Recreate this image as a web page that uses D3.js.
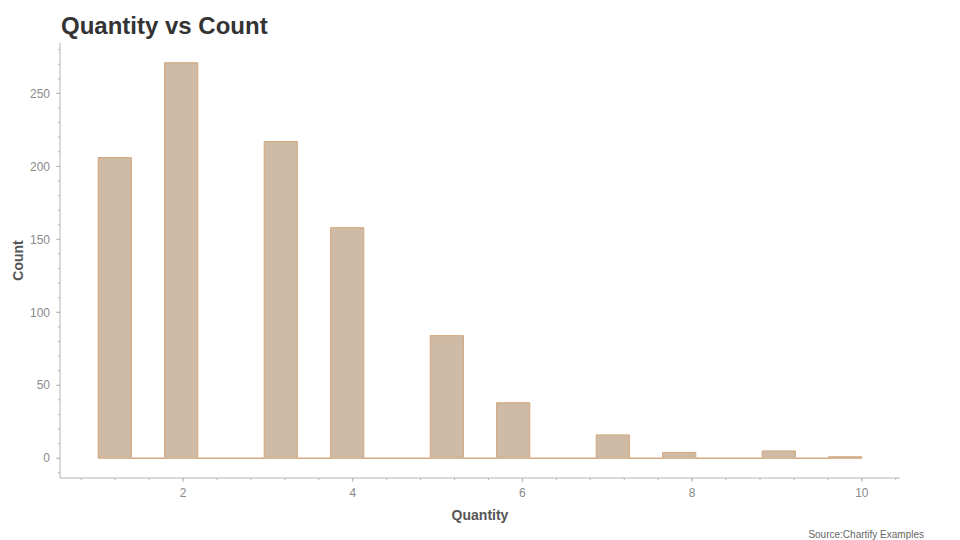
<!DOCTYPE html>
<html lang="en">
<head>
<meta charset="utf-8">
<title>Quantity vs Count</title>
<script src="https://d3js.org/d3.v7.min.js"></script>
<style>
  body { margin: 0; background: #fff; font-family: "Liberation Sans", Arial, sans-serif; }
</style>
</head>
<body>
<script>
// histogram bin edges (23 bins between 1 and 10)
var binEdges = [1, 1.3913, 1.7826, 2.1739, 2.5652, 2.9565, 3.3478, 3.7391, 4.1304,
                4.5217, 4.913, 5.3043, 5.6957, 6.087, 6.4783, 6.8696, 7.2609, 7.6522,
                8.0435, 8.4348, 8.8261, 9.2174, 9.6087, 10];
// counts per bin
var binCounts = [206, 0, 271, 0, 0, 217, 0, 158, 0, 0, 84, 0, 38, 0, 0, 16, 0, 4, 0, 0, 5, 0, 1];
var xTicks = [2, 4, 6, 8, 10];
var yTicks = [0, 50, 100, 150, 200, 250];

var W = 960, H = 540;
var plotL = 60, plotR = 900, plotT = 43, plotB = 478;

var svg = d3.select("body").append("svg")
    .attr("width", W).attr("height", H);

var x = d3.scaleLinear().domain([0.55, 10.45]).range([plotL, plotR]);
var y = d3.scaleLinear().domain([-13.55, 284.55]).range([plotB, plotT]);

var bins = binCounts.map(function(c, i) {
  return {x0: binEdges[i], x1: binEdges[i + 1], count: c};
});

svg.append("g")
  .selectAll("path")
  .data(bins)
  .enter().append("path")
    .attr("d", function(d) {
      var x0 = x(d.x0), x1 = x(d.x1), y0 = y(0), yt = y(d.count);
      return "M" + x0 + "," + y0 + "V" + yt + "H" + x1 + "V" + y0 + "Z";
    })
    .attr("fill", "#cfbaa6")
    .attr("stroke", "#d2a67b")
    .attr("stroke-width", 1);

// axes
var axisColor = "#b5b5b5", tickText = "#8a8a8a";

var xAxis = svg.append("g").attr("transform", "translate(0," + plotB + ")");
xAxis.append("line").attr("x1", plotL).attr("x2", plotR).attr("stroke", axisColor);
xAxis.selectAll(".minor")
  .data(d3.range(0.8, 10.45, 0.4))
  .enter().append("line")
    .attr("x1", function(d) { return x(d); }).attr("x2", function(d) { return x(d); })
    .attr("y1", 0).attr("y2", 2).attr("stroke", axisColor);
xAxis.selectAll(".major")
  .data(xTicks)
  .enter().append("line")
    .attr("x1", function(d) { return x(d); }).attr("x2", function(d) { return x(d); })
    .attr("y1", 0).attr("y2", 4).attr("stroke", axisColor);
xAxis.selectAll("text")
  .data(xTicks)
  .enter().append("text")
    .attr("x", function(d) { return x(d); })
    .attr("y", 19)
    .attr("text-anchor", "middle")
    .attr("font-size", 12)
    .attr("fill", tickText)
    .text(function(d) { return d; });

var yAxis = svg.append("g").attr("transform", "translate(" + plotL + ",0)");
yAxis.append("line").attr("y1", plotT).attr("y2", plotB).attr("stroke", axisColor);
yAxis.selectAll(".minor")
  .data(d3.range(-10, 285, 10))
  .enter().append("line")
    .attr("y1", function(d) { return y(d); }).attr("y2", function(d) { return y(d); })
    .attr("x1", 0).attr("x2", -2).attr("stroke", axisColor);
yAxis.selectAll(".major")
  .data(yTicks)
  .enter().append("line")
    .attr("y1", function(d) { return y(d); }).attr("y2", function(d) { return y(d); })
    .attr("x1", 0).attr("x2", -4).attr("stroke", axisColor);
yAxis.selectAll("text")
  .data(yTicks)
  .enter().append("text")
    .attr("x", -10)
    .attr("y", function(d) { return y(d); })
    .attr("dy", "0.35em")
    .attr("text-anchor", "end")
    .attr("font-size", 12)
    .attr("fill", tickText)
    .text(function(d) { return d; });

// labels
svg.append("text")
  .attr("x", (plotL + plotR) / 2).attr("y", 520)
  .attr("text-anchor", "middle")
  .attr("font-size", 14).attr("font-weight", "bold")
  .attr("fill", "#555")
  .text("Quantity");

svg.append("text")
  .attr("transform", "translate(23," + (plotT + plotB) / 2 + ") rotate(-90)")
  .attr("text-anchor", "middle")
  .attr("font-size", 14).attr("font-weight", "bold")
  .attr("fill", "#555")
  .text("Count");

svg.append("text")
  .attr("x", 61).attr("y", 34)
  .attr("font-size", 24).attr("font-weight", "bold")
  .attr("fill", "#333")
  .text("Quantity vs Count");

svg.append("text")
  .attr("x", 924).attr("y", 538)
  .attr("text-anchor", "end")
  .attr("font-size", 10)
  .attr("fill", "#666")
  .text("Source:Chartify Examples");
</script>
</body>
</html>
